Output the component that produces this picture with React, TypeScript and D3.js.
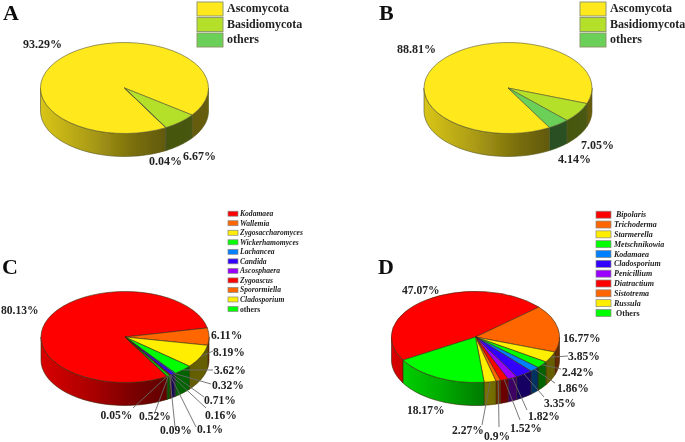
import * as d3 from 'd3'

// values, clockwise in the order of each legend
const phylumNames = ['Ascomycota', 'Basidiomycota', 'others']
const valuesA = [93.29, 6.67, 0.04]
const valuesB = [88.81, 7.05, 4.14]

const generaC = ['Kodamaea', 'Wallemia', 'Zygosaccharomyces', 'Wickerhamomyces', 'Lachancea', 'Candida', 'Ascosphaera', 'Zygoascus', 'Sporormiella', 'Cladosporium', 'others']
const valuesC = [80.13, 6.11, 8.19, 3.62, 0.32, 0.71, 0.16, 0.1, 0.09, 0.52, 0.05]

const generaD = ['Bipolaris', 'Trichoderma', 'Starmerella', 'Metschnikowia', 'Kodamaea', 'Cladosporium', 'Penicillium', 'Diatractium', 'Sistotrema', 'Russula', 'Others']
const valuesD = [47.07, 16.77, 3.85, 2.42, 1.86, 3.35, 1.82, 1.52, 0.9, 2.27, 18.17]

const phylumColors = ['#ffe81e', '#b5e02c', '#6ad058']
const genusColors = ['#ff0000', '#ff6600', '#ffee00', '#00ff00', '#0080ff', '#3300ff', '#9900ff', '#ff0000', '#ff6600', '#ffee00', '#00ff00']
// in the C pie the 0.52% slice is painted green, whatever its legend says
const sliceColorsC = ['#ff0000', '#ff6600', '#ffee00', '#00ff00', '#0080ff', '#3300ff', '#9900ff', '#ff0000', '#ff6600', '#00ee00', '#00ff00']

// label layout: [left, baseline], and where the leader ends (null = no leader)
const labelsA = [[23, 48], [183, 160], [149, 165]]
const labelsB = [[397, 53], [581, 149], [558, 163]]
const labelsC = [[1, 314], [211, 339], [213, 356], [214, 374], [212, 389], [204, 404], [205, 419], [197, 433], [160, 434], [139, 420], [100.5, 419]]
const labelsD = [[402, 294], [563, 342], [568, 360], [562, 376], [557, 392], [544, 406.5], [528, 419.5], [510, 432], [484, 440], [452, 434], [407, 414]]
const leadersC = [null, null, [213, 351], [213, 370], [211, 384], [204, 397], [206, 408], [196, 427], [175, 427], [155, 412], [133, 408]]
const leadersD = [null, null, [568, 356], [561, 369], [555, 383], [544, 397], [527, 410], [520, 420], [499, 427], [482, 425], null]

const RX = 84
const RY = 45.5
const DEPTH = 23
const rad = (deg: number) => (deg * Math.PI) / 180
const serif = '"Liberation Serif", "Times New Roman", serif'

function Pie3D({ id, cx, cy, values, colors, startDeg, labels, leaders, edge, labelSize }: any) {
  const slices = d3.pie<number>().sort(null).value(d => d).startAngle(rad(startDeg)).endAngle(rad(startDeg + 360))(values)
  const topArc = d3.arc<any>().innerRadius(0).outerRadius(1)
  const rim = (a: number): [number, number] => [cx + RX * Math.sin(a), cy - RY * Math.cos(a)]
  const line = d3.line()

  // the front wall only exists between 3 and 9 o'clock
  const wallPath = (s: any) => {
    let out = ''
    for (const turn of [-1, 0, 1]) {
      const a0 = Math.max(s.startAngle, rad(90 + 360 * turn))
      const a1 = Math.min(s.endAngle, rad(270 + 360 * turn))
      if (a1 <= a0) continue
      const top = d3.range(0, 25).map(i => rim(a0 + ((a1 - a0) * i) / 24))
      const bottom = top.map(p => [p[0], p[1] + DEPTH] as [number, number]).reverse()
      out += line([...top, ...bottom]) + 'Z'
    }
    return out
  }

  return (
    <g>
      <defs>
        <linearGradient id={id} gradientUnits="userSpaceOnUse" x1={cx - RX} x2={cx + RX} y1={0} y2={0}>
          <stop offset="0" stopColor="#000" stopOpacity={0.15} />
          <stop offset="0.3" stopColor="#000" stopOpacity={0.33} />
          <stop offset="0.55" stopColor="#000" stopOpacity={0.52} />
          <stop offset="0.75" stopColor="#000" stopOpacity={0.62} />
          <stop offset="1" stopColor="#000" stopOpacity={0.6} />
        </linearGradient>
      </defs>
      {slices.map((s, i) => {
        const d = wallPath(s)
        if (!d) return null
        return (
          <g key={i}>
            <path d={d} fill={colors[i]} />
            <path d={d} fill={`url(#${id})`} stroke={edge} strokeWidth={0.6} />
          </g>
        )
      })}
      <g transform={`translate(${cx},${cy}) scale(${RX},${RY})`}>
        {slices.map((s, i) => (
          <path key={i} d={topArc(s) as string} fill={colors[i]} stroke={edge} strokeWidth={0.6} vectorEffect="non-scaling-stroke" />
        ))}
      </g>
      {leaders && slices.map((s, i) => {
        if (!leaders[i]) return null
        const [x, y] = rim((s.startAngle + s.endAngle) / 2)
        return <line key={i} x1={x} y1={y} x2={leaders[i][0]} y2={leaders[i][1]} stroke="#6a6a6a" strokeWidth={0.9} />
      })}
      {values.map((v: number, i: number) => (
        <text key={i} x={labels[i][0]} y={labels[i][1]} fontFamily={serif} fontWeight="bold" fontSize={labelSize} fill="#222">
          {v}%
        </text>
      ))}
    </g>
  )
}

function BigLegend({ swatchX, textX }: any) {
  const y = d3.scaleBand().domain(phylumNames).range([2, 47]).paddingInner(0.1)
  return (
    <g>
      {phylumNames.map((name, i) => (
        <g key={name}>
          <rect x={swatchX} y={y(name)} width={26} height={y.bandwidth()} fill={phylumColors[i]} stroke="#8f9a6a" strokeWidth={1} />
          <text x={textX} y={(y(name) as number) + 10} fontFamily={serif} fontWeight="bold" fontSize={12} fill="#222">{name}</text>
        </g>
      ))}
    </g>
  )
}

function SmallLegend({ names, swatchX, swatchW, swatchH, textX, top, step, fontSize, indent }: any) {
  const y = d3.scalePoint().domain(names).range([top, top + step * (names.length - 1)])
  return (
    <g>
      {names.map((name: string, i: number) => (
        <g key={name}>
          <rect x={swatchX} y={(y(name) as number) - swatchH / 2} width={swatchW} height={swatchH} fill={genusColors[i]} stroke="#888" strokeWidth={0.7} />
          <text
            x={textX + (indent ? indent[i] : 0)}
            y={(y(name) as number) + 2.5}
            fontFamily={serif}
            fontWeight="bold"
            fontStyle={name.toLowerCase() === 'others' ? 'normal' : 'italic'}
            fontSize={fontSize}
            fill="#222"
          >
            {name}
          </text>
        </g>
      ))}
    </g>
  )
}

const panelLetters = [['A', 3, 20], ['B', 379, 20], ['C', 2, 274], ['D', 378, 274]]

export default function App() {
  return (
    <svg width={685} height={442} style={{ position: 'fixed', left: 0, top: 0, background: '#fff' }}>
      <defs>
        <filter id="soft" filterUnits="userSpaceOnUse" x={0} y={0} width={685} height={442}>
          <feGaussianBlur stdDeviation={0.45} />
        </filter>
      </defs>
      <g filter="url(#soft)">
        <Pie3D id="shadeA" cx={124.5} cy={88} values={valuesA} colors={phylumColors} startDeg={150.6} labels={labelsA} edge="#55552a" labelSize={12} />
        <Pie3D id="shadeB" cx={508} cy={88} values={valuesB} colors={phylumColors} startDeg={150.3} labels={labelsB} edge="#55552a" labelSize={12} />
        <Pie3D id="shadeC" cx={125} cy={337} values={valuesC} colors={sliceColorsC} startDeg={150} labels={labelsC} leaders={leadersC} edge="#3a2a10" labelSize={11.6} />
        <Pie3D id="shadeD" cx={475.5} cy={337} values={valuesD} colors={genusColors} startDeg={239.5} labels={labelsD} leaders={leadersD} edge="#3a2a10" labelSize={11.6} />

        <BigLegend swatchX={197} textX={227} />
        <BigLegend swatchX={580} textX={610} />
        <SmallLegend names={generaC} swatchX={228} swatchW={10} swatchH={5} textX={240} top={213.7} step={9.53} fontSize={7.6} />
        <SmallLegend names={generaD} swatchX={596} swatchW={15} swatchH={7} textX={614} top={214.7} step={9.83} fontSize={8} indent={[2, 0, 0, 0, 0, 0, 0, 0, 0, 0, 2]} />

        {panelLetters.map(([t, x, y]) => (
          <text key={t as string} x={x as number} y={y as number} fontFamily={serif} fontWeight="bold" fontSize={22} fill="#111">{t}</text>
        ))}
      </g>
    </svg>
  )
}
